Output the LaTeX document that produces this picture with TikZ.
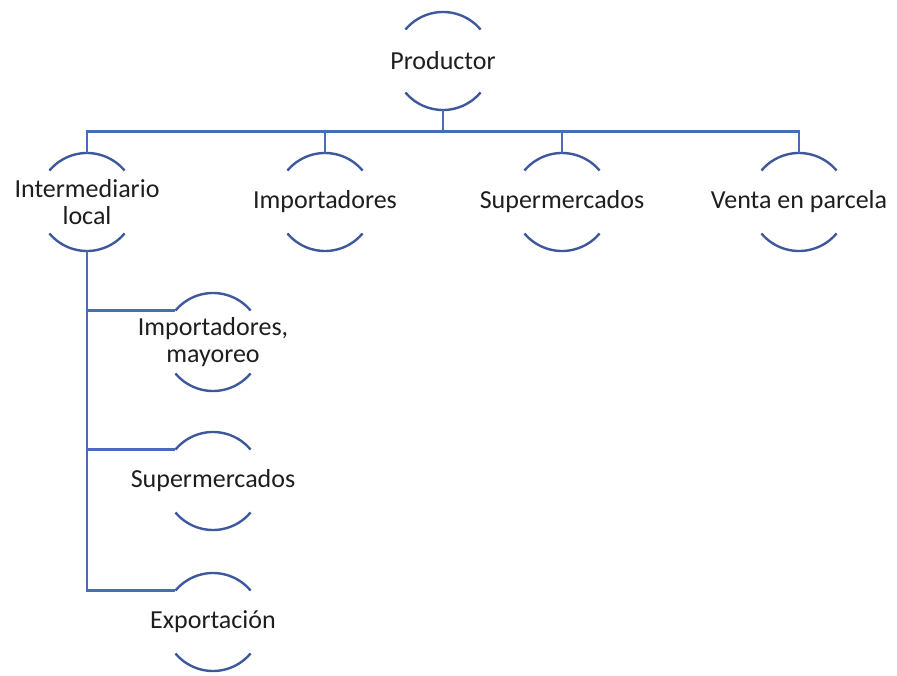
\documentclass[tikz,border=0pt]{standalone}
\usepackage{fontspec}
\setmainfont{Carlito}
\definecolor{linkblue}{RGB}{72,108,184}
\definecolor{arcblue}{RGB}{62,88,156}
\definecolor{txtgray}{RGB}{30,30,30}

\begin{document}
\begin{tikzpicture}[x=0.5pt,y=0.5pt,
    ring/.style={circle,minimum size=49pt,inner sep=0pt,outer sep=0pt},
    arcline/.style={arcblue,line width=1.2pt},
    link/.style={linkblue,line width=1.3pt},
    every label/.style={font=\fontsize{13}{13.5}\selectfont,text=txtgray,align=center,inner sep=0pt}]
    \useasboundingbox (0,0) rectangle (897,675);

    % Top level
    \node[ring,label=center:Productor] (prod) at (443,614) {};

    % Second level
    \node[ring,label={center:Intermediario\\local}] (inter) at (87,473) {};
    \node[ring,label=center:Importadores] (imp) at (325,473) {};
    \node[ring,label=center:Supermercados] (super) at (562,473) {};
    \node[ring,label=center:Venta en parcela] (venta) at (799,473) {};

    % Third level
    \node[ring,label={center:Importadores,\\mayoreo}] (mayor) at (213,333) {};
    \node[ring,label=center:Supermercados] (super2) at (213,194) {};
    \node[ring,label=center:Exportación] (export) at (213,53) {};

    % Arcs above and below each text
    \foreach \n in {prod,inter,imp,super,venta,mayor,super2,export} {
        \draw[arcline] (\n.40) arc[start angle=40,end angle=140,radius=49];
        \draw[arcline] (\n.220) arc[start angle=220,end angle=320,radius=49];
    }

    % Connectors
    \coordinate (bus) at (443,543.5);
    \draw[link] (prod.south) -- (bus);
    \foreach \n in {inter,imp,super,venta}
        \draw[link] (bus) -| (\n.north);
    \foreach \n in {mayor,super2,export}
        \draw[link] (inter.south) |- (\n.140);
\end{tikzpicture}
\end{document}
